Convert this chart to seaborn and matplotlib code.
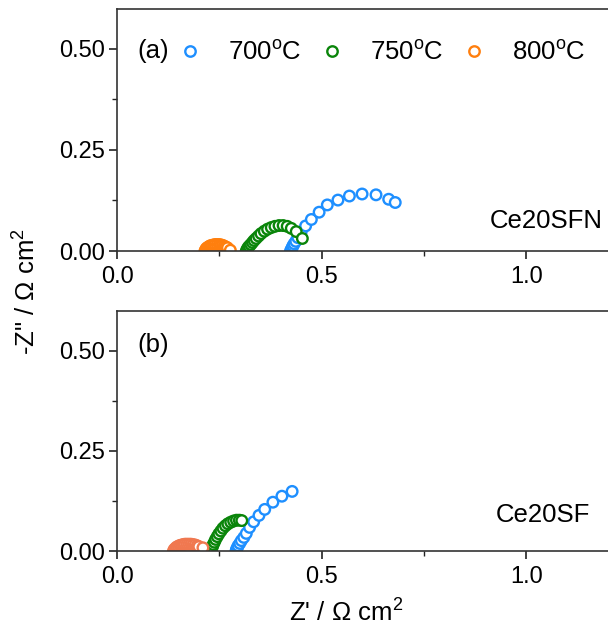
import numpy as np
import pandas as pd
import matplotlib
matplotlib.use("Agg")
import matplotlib.pyplot as plt
from matplotlib.lines import Line2D
from matplotlib.ticker import MultipleLocator
import seaborn as sns

sns.set_style("ticks")
plt.rcParams["font.family"] = ["Liberation Sans", "DejaVu Sans"]
plt.rcParams["mathtext.fontset"] = "custom"
plt.rcParams["mathtext.rm"] = "Liberation Sans"
plt.rcParams["mathtext.it"] = "Liberation Sans:italic"
plt.rcParams["text.color"] = "black"
plt.rcParams["xtick.color"] = "black"
plt.rcParams["ytick.color"] = "black"
plt.rcParams["xtick.labelcolor"] = "black"
plt.rcParams["ytick.labelcolor"] = "black"

temps = ["700oC", "750oC", "800oC"]
temp_labels = ["700$^\\mathrm{o}$C", "750$^\\mathrm{o}$C", "800$^\\mathrm{o}$C"]

# Panel (a): Ce20SFN
a700_x = [0.424, 0.426, 0.428, 0.430, 0.433, 0.437, 0.442, 0.450, 0.461, 0.475, 0.494, 0.514, 0.540, 0.568, 0.599, 0.633, 0.664, 0.680]
a700_y = [0.000, 0.004, 0.008, 0.013, 0.018, 0.024, 0.033, 0.047, 0.062, 0.078, 0.096, 0.114, 0.126, 0.136, 0.141, 0.139, 0.128, 0.120]
a750_x = [0.316, 0.318, 0.320, 0.323, 0.327, 0.331, 0.335, 0.340, 0.346, 0.352, 0.360, 0.368, 0.377, 0.386, 0.396, 0.406, 0.416, 0.426, 0.438, 0.453]
a750_y = [0.000, 0.004, 0.008, 0.012, 0.016, 0.021, 0.026, 0.031, 0.037, 0.043, 0.049, 0.054, 0.058, 0.061, 0.063, 0.063, 0.061, 0.056, 0.048, 0.031]
a800_x = [0.215, 0.217, 0.219, 0.222, 0.225, 0.228, 0.232, 0.236, 0.240, 0.245, 0.250, 0.254, 0.258, 0.262, 0.266, 0.270, 0.277]
a800_y = [0.000, 0.004, 0.007, 0.009, 0.011, 0.013, 0.014, 0.015, 0.016, 0.016, 0.016, 0.015, 0.014, 0.012, 0.010, 0.008, 0.002]

# Panel (b): Ce20SF
b700_x = [0.291, 0.292, 0.294, 0.296, 0.300, 0.304, 0.310, 0.316, 0.324, 0.334, 0.347, 0.361, 0.381, 0.403, 0.428]
b700_y = [0.000, 0.004, 0.008, 0.013, 0.019, 0.026, 0.034, 0.044, 0.059, 0.073, 0.089, 0.104, 0.122, 0.137, 0.149]
b750_x = [0.230, 0.231, 0.233, 0.235, 0.238, 0.241, 0.245, 0.249, 0.254, 0.259, 0.265, 0.271, 0.278, 0.285, 0.292, 0.299, 0.305]
b750_y = [0.000, 0.005, 0.010, 0.016, 0.022, 0.029, 0.036, 0.043, 0.050, 0.057, 0.063, 0.068, 0.072, 0.075, 0.077, 0.077, 0.076]
b800_x = [0.138, 0.140, 0.143, 0.146, 0.150, 0.154, 0.158, 0.162, 0.166, 0.171, 0.176, 0.181, 0.186, 0.191, 0.196, 0.200, 0.210]
b800_y = [0.000, 0.004, 0.007, 0.010, 0.012, 0.014, 0.015, 0.016, 0.017, 0.017, 0.017, 0.017, 0.016, 0.015, 0.013, 0.011, 0.008]

x_ticks = [0.0, 0.5, 1.0]
y_ticks = [0.00, 0.25, 0.50]


def make_df(series):
    rows = []
    for t, xs, ys in series:
        for x, y in zip(xs, ys):
            rows.append({"Zre": x, "Zim": y, "T": t})
    return pd.DataFrame(rows)


df_a = make_df([(temps[0], a700_x, a700_y), (temps[1], a750_x, a750_y), (temps[2], a800_x, a800_y)])
df_b = make_df([(temps[0], b700_x, b700_y), (temps[1], b750_x, b750_y), (temps[2], b800_x, b800_y)])

pal_a = {temps[0]: "#1E8FFF", temps[1]: "#0A850A", temps[2]: "#FF7F0E"}
pal_b = {temps[0]: "#1E8FFF", temps[1]: "#0A850A", temps[2]: "#F07850"}

fig = plt.figure(figsize=(6.08, 6.35), dpi=100)
W, H = 608, 635
left = 117 / W
width = 1 - left
ax_a = fig.add_axes([left, 1 - 251 / H, width, (251 - 8.5) / H])
ax_b = fig.add_axes([left, 1 - 551 / H, width, (551 - 311) / H])

for ax, df, pal in [(ax_a, df_a, pal_a), (ax_b, df_b, pal_b)]:
    sns.scatterplot(data=df, x="Zre", y="Zim", hue="T", palette=pal, s=58,
                    linewidth=1.7, legend=False, ax=ax, zorder=3, clip_on=True)
    coll = ax.collections[0]
    fc = coll.get_facecolors()
    coll.set_edgecolors(fc)
    coll.set_facecolors("white")
    ax.set_xlim(0, 1.2)
    ax.set_ylim(0, 0.6)
    ax.set_xticks(x_ticks)
    ax.set_xticklabels([f"{v:.1f}" for v in x_ticks])
    ax.set_yticks(y_ticks)
    ax.set_yticklabels([f"{v:.2f}" for v in y_ticks])
    ax.xaxis.set_minor_locator(MultipleLocator(0.25))
    ax.yaxis.set_minor_locator(MultipleLocator(0.125))
    ax.tick_params(axis="both", which="major", direction="out", length=6, width=1.2,
                   labelsize=17, color="#222222", labelcolor="black")
    ax.tick_params(axis="both", which="minor", direction="out", length=3.5, width=1.0,
                   color="#222222")
    ax.tick_params(axis="x", which="major", pad=5)
    ax.tick_params(axis="y", which="major", pad=3)
    ax.set_xlabel("")
    ax.set_ylabel("")
    for side in ["left", "bottom", "top"]:
        ax.spines[side].set_linewidth(1.2)
        ax.spines[side].set_color("#333333")
        ax.spines[side].set_zorder(4)
    ax.spines["right"].set_visible(False)

ax_a.text((137 - 117) / 491, (251 - 51) / 242.5, "(a)", transform=ax_a.transAxes,
          fontsize=18.5, ha="left", va="center", color="black")
ax_b.text((137 - 117) / 491, (551 - 345) / 240, "(b)", transform=ax_b.transAxes,
          fontsize=18.5, ha="left", va="center", color="black")
ax_a.text((490 - 117) / 491, (251 - 221) / 242.5, "Ce20SFN", transform=ax_a.transAxes,
          fontsize=18.5, ha="left", va="center", color="black")
ax_b.text((496 - 117) / 491, (551 - 515) / 240, "Ce20SF", transform=ax_b.transAxes,
          fontsize=18.5, ha="left", va="center", color="black")

handles = [Line2D([], [], linestyle="", marker="o", markersize=7.5, markerfacecolor="white",
                  markeredgecolor=pal_a[t], markeredgewidth=1.7) for t in temps]
leg = ax_a.legend(handles, temp_labels, loc="center left", ncol=3, frameon=False,
                  bbox_to_anchor=((177 - 117) / 491, (251 - 53) / 242.5),
                  borderpad=0, borderaxespad=0, handlelength=1.0, handletextpad=1.0,
                  columnspacing=0.67, fontsize=18.5)
for t in leg.get_texts():
    t.set_color("black")

fig.text(346 / W, 1 - 613 / H, "Z' / Ω cm$^2$", fontsize=18.5, ha="center", va="center",
         color="black")
fig.text(27 / W, 1 - 291 / H, "-Z\" / Ω cm$^2$", fontsize=18.5, ha="center", va="center",
         rotation=90, color="black")

fig.savefig("out.png", dpi=100)
